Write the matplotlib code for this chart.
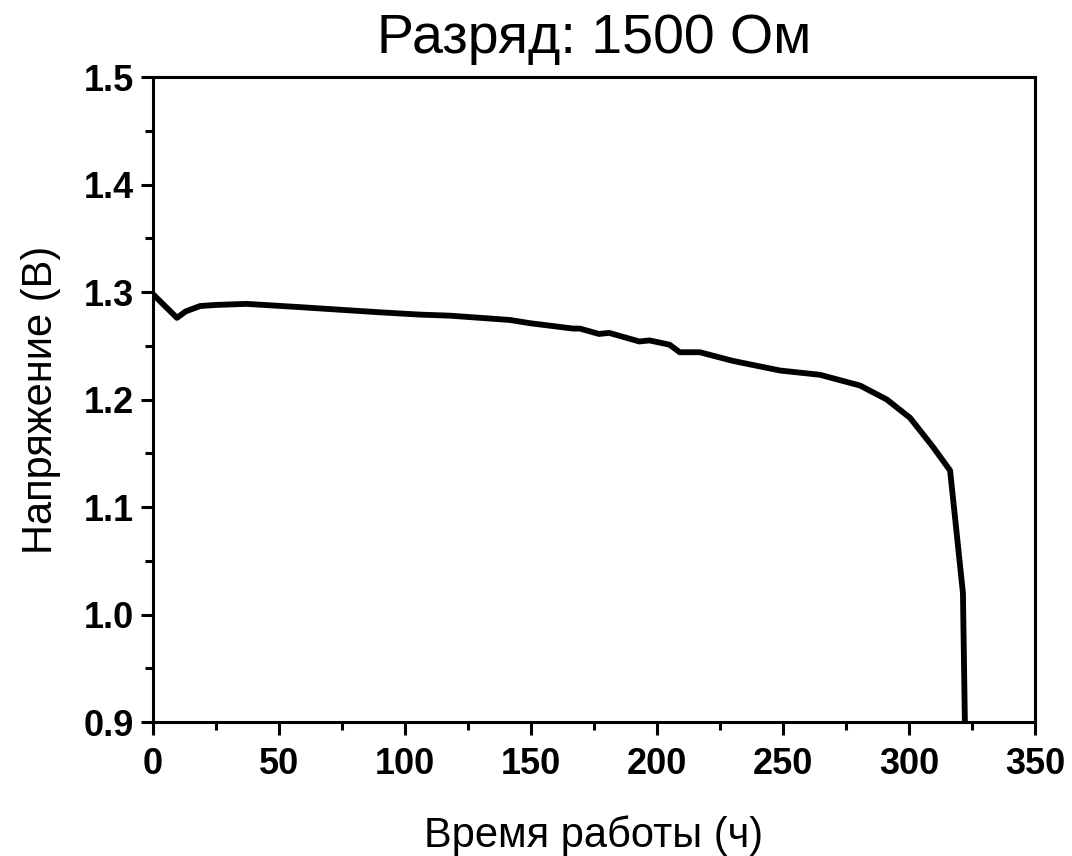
import matplotlib
matplotlib.use("Agg")
import matplotlib.pyplot as plt
from matplotlib.ticker import MultipleLocator, FormatStrFormatter

# discharge curve, 1500 Ohm load
time_h = [0, 9.5, 13, 18.7, 25, 37, 58, 91, 106, 118, 141.7, 149.6, 166.7, 169.4, 177, 181,
          193, 197, 205, 209, 217, 230, 248.8, 264.7, 280.6, 291.2, 300.4, 309.5,
          316.3, 321.4, 322.3]
voltage = [1.298, 1.276, 1.282, 1.287, 1.288, 1.289, 1.286, 1.281, 1.279, 1.278, 1.274, 1.271,
           1.266, 1.266, 1.261, 1.262, 1.254, 1.255, 1.251, 1.244, 1.244, 1.236,
           1.227, 1.223, 1.213, 1.200, 1.183, 1.156, 1.134, 1.020, 0.880]

plt.rcParams['font.family'] = ['Liberation Sans', 'DejaVu Sans']

fig = plt.figure(figsize=(10.72, 8.56), dpi=100)
ax = fig.add_axes([0.1427, 0.1565, 0.8228, 0.7535])

ax.plot(time_h, voltage, color='black', linewidth=4.2, solid_joinstyle='round')

ax.set_xlim(0, 350)
ax.set_ylim(0.9, 1.5)
ax.xaxis.set_major_locator(MultipleLocator(50))
ax.xaxis.set_minor_locator(MultipleLocator(25))
ax.yaxis.set_major_locator(MultipleLocator(0.1))
ax.yaxis.set_minor_locator(MultipleLocator(0.05))
ax.yaxis.set_major_formatter(FormatStrFormatter('%.1f'))

for s in ax.spines.values():
    s.set_linewidth(2.2)
ax.tick_params(which='major', direction='out', length=9, width=2.2, labelsize=26)
ax.tick_params(axis='x', which='major', pad=9)
ax.tick_params(axis='y', which='major', pad=5)
ax.tick_params(which='minor', direction='out', length=6, width=2.2)
ax.tick_params(top=False, right=False)
for lbl in ax.get_xticklabels() + ax.get_yticklabels():
    lbl.set_fontweight('bold')

ax.set_xlabel("Время работы (ч)", fontsize=30, labelpad=24)
ax.set_ylabel("Напряжение (В)", fontsize=30, labelpad=16)
ax.set_title("Разряд: 1500 Ом", fontsize=40, pad=17)

fig.savefig("out.png", dpi=100)
